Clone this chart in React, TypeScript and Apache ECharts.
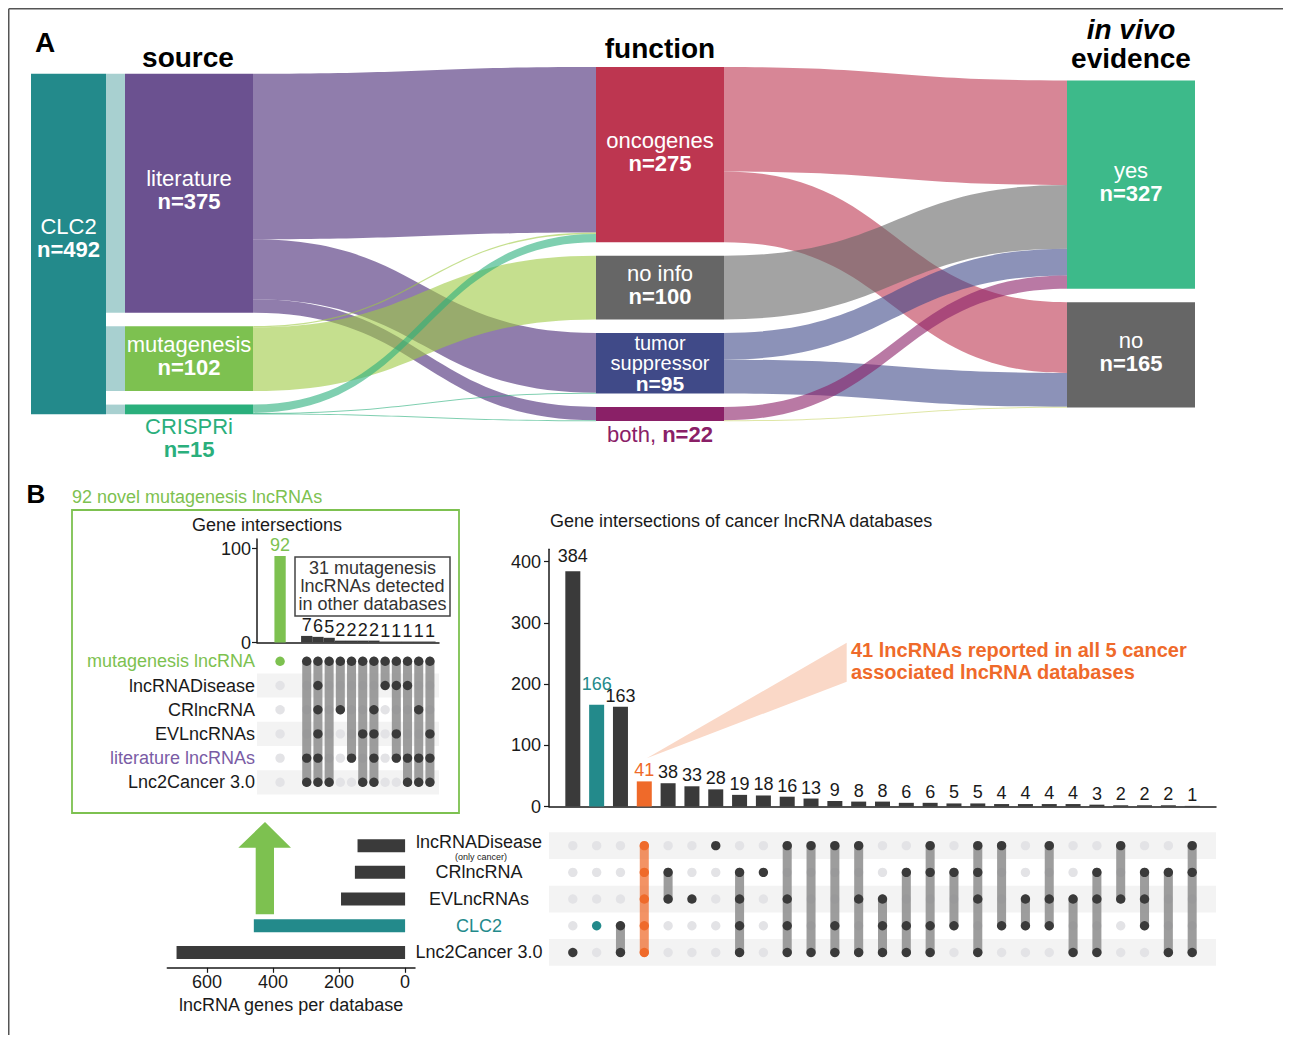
import React, { useEffect, useRef } from 'react';
import * as echarts from 'echarts';

const FONT = '"Liberation Sans", Arial, Helvetica, sans-serif';

// ---------------- Panel A data (alluvial) ----------------
const clc2Total = 492;
const sourceNames = ['literature', 'mutagenesis', 'CRISPRi'];
const sourceValues = [375, 102, 15];
const functionNames = ['oncogenes', 'no info', 'tumor suppressor', 'both'];
const functionValues = [275, 100, 95, 22];
const evidenceNames = ['yes', 'no'];
const evidenceValues = [327, 165];
const flowFrom = ['literature', 'literature', 'literature', 'mutagenesis', 'mutagenesis', 'CRISPRi', 'CRISPRi', 'CRISPRi',
  'oncogenes', 'oncogenes', 'no info', 'tumor suppressor', 'tumor suppressor', 'both', 'both'];
const flowTo = ['oncogenes', 'tumor suppressor', 'both', 'oncogenes', 'no info', 'oncogenes', 'tumor suppressor', 'both',
  'yes', 'no', 'yes', 'yes', 'no', 'yes', 'no'];
const flowValues = [260, 94, 21, 2, 100, 13, 1, 1, 164, 111, 100, 42, 53, 21, 1];

// ---------------- Panel B inset (mutagenesis upset) ----------------
const insetSetNames = ['mutagenesis lncRNA', 'lncRNADisease', 'CRlncRNA', 'EVLncRNAs', 'literature lncRNAs', 'Lnc2Cancer 3.0'];
const novelCount = 92;
const insetCounts = [7, 6, 5, 2, 2, 2, 2, 1, 1, 1, 1, 1];
const insetMembership = [
  [0, 4, 5], [0, 1, 2, 3, 4, 5], [0, 5], [0, 2], [0, 4], [0, 3, 5],
  [0, 2, 3, 4, 5], [0, 1], [0, 1, 3, 4], [0, 1, 4, 5], [0, 2, 4, 5], [0, 3, 4, 5],
];
const insetTicks = [0, 100];

// ---------------- Panel B main (database upset) ----------------
const dbNames = ['lncRNADisease', 'CRlncRNA', 'EVLncRNAs', 'CLC2', 'Lnc2Cancer 3.0'];
const dbNotes = ['(only cancer)', '', '', '', ''];
const dbSizes = [144, 152, 194, 458, 692];
const interCounts = [384, 166, 163, 41, 38, 33, 28, 19, 18, 16, 13, 9, 8, 8, 6, 6, 5, 5, 4, 4, 4, 4, 3, 2, 2, 2, 1];
const interMembership = [
  [4], [3], [3, 4], [0, 1, 2, 3, 4], [1, 2], [2], [0], [1, 2, 3, 4], [1], [0, 2, 3, 4],
  [0, 4], [0, 3, 4], [0, 2, 4], [2, 3, 4], [1, 3, 4], [0, 1, 3, 4], [1, 3], [0, 1, 2, 4],
  [0, 3], [2, 3], [0, 2, 3], [2, 4], [1, 2, 4], [0, 2], [1, 2, 3], [1, 4], [0, 1, 4],
];
const interTicks = [0, 100, 200, 300, 400];
const sizeTicks = [0, 200, 400, 600];

// ---------------- styles ----------------
const TEAL = '#238a8b';
const GREEN = '#7dc150';
const ORANGE = '#ef6a2a';
const DARK = '#3a3a3a';
const TXT = '#1a1a1a';
const LIGHT_DOT = '#e3e3e6';
const STRIPE = '#f3f3f3';
const NODE_COLOR: Record<string, string> = {
  literature: '#6b5190', mutagenesis: '#7dc150', CRISPRi: '#2aaf7c',
  oncogenes: '#bd3650', 'no info': '#666666', 'tumor suppressor': '#404a88', both: '#8a2067',
  yes: '#3dba8a', no: '#666666',
};
const LINK_COLOR: Record<string, string> = {
  literature: '#6b5190', mutagenesis: '#9ec943', CRISPRi: '#2aaf7c',
  oncogenes: '#bd3650', 'no info': '#666666', 'tumor suppressor': '#404a88', both: '#8a2067',
};

// ---------------- layout ----------------
const PAGE_W = 1275;
const PAGE_H = 1027;
const SK = { left: 117, top: 59, width: 1070, nodeWidth: 128, gap: 13.5, ky: 0.637 };
const SK_H = functionValues.reduce((a, b) => a + b, 0) * SK.ky + (functionValues.length - 1) * SK.gap;
const CLC2_X = 23;
const CLC2_W = 75;
const INSET_XMIN = -4.44;
const INSET_XMAX = 11.81;
const NOVEL_X = -2.38;
const LABEL_NUDGE: Record<number, number> = { 0: -4, 1: -10 };
const MAIN_GRID = { left: 541, top: 824.3, width: 667, height: 133.5 };
const ROW_LABEL_X = 471;

function columnTops(values: number[]): number[] {
  const tot = values.reduce((a, b) => a + b, 0) * SK.ky + (values.length - 1) * SK.gap;
  let y = (SK_H - tot) / 2;
  return values.map((v) => {
    const t = y;
    y += v * SK.ky + SK.gap;
    return t;
  });
}

function nodeLabel(name: string, value: number): any {
  if (name === 'tumor suppressor') return { formatter: `{t|tumor}\n{t|suppressor}\n{tb|n=${value}}` };
  if (name === 'CRISPRi') return { position: 'bottom', distance: 1, formatter: `{cg|CRISPRi}\n{cgb|n=${value}}` };
  if (name === 'both') return { position: 'bottom', distance: 2, formatter: `{m|both, }{mb|n=${value}}` };
  return { offset: [0, -3], formatter: `{w|${name}}\n{wb|n=${value}}` };
}

function buildNodes(names: string[], values: number[]) {
  const tops = columnTops(values);
  return names.map((name, i) => ({
    name,
    localY: tops[i] / SK_H,
    itemStyle: { color: NODE_COLOR[name], borderWidth: 0 },
    label: nodeLabel(name, values[i]),
  }));
}

function stripeSeries(idx: number, rows: number[], xmin: number) {
  return {
    type: 'custom', xAxisIndex: idx, yAxisIndex: idx, silent: true, z: 1,
    data: rows.map((r) => [xmin, r]),
    renderItem: (params: any, api: any) => {
      const cs = params.coordSys;
      const c = api.coord([api.value(0), api.value(1)]);
      const h = api.size([0, 1])[1];
      return { type: 'rect', shape: { x: cs.x, y: c[1] - h / 2, width: cs.width, height: h }, style: { fill: STRIPE } };
    },
  };
}

function matrixSeries(idx: number, xs: number[], members: number[][], nRows: number,
  colorOf: (i: number) => { dot: string; bar: string; op: number }) {
  const R = 4.7;
  const BW = 9;
  return {
    type: 'custom', xAxisIndex: idx, yAxisIndex: idx, silent: true, z: 2,
    data: xs.map((x) => [x, 0]),
    renderItem: (params: any, api: any) => {
      const i = params.dataIndex;
      const x = api.value(0);
      const m = members[i];
      const col = colorOf(i);
      const children: any[] = [];
      for (let r = 0; r < nRows; r++) {
        if (m.indexOf(r) < 0) {
          const p = api.coord([x, r]);
          children.push({ type: 'circle', shape: { cx: p[0], cy: p[1], r: R }, style: { fill: LIGHT_DOT } });
        }
      }
      if (m.length > 1) {
        const a = api.coord([x, Math.min(...m)]);
        const b = api.coord([x, Math.max(...m)]);
        children.push({
          type: 'rect',
          shape: { x: a[0] - BW / 2, y: a[1] - BW / 2, width: BW, height: b[1] - a[1] + BW, r: BW / 2 },
          style: { fill: col.bar, opacity: col.op },
        });
      }
      m.forEach((r) => {
        const p = api.coord([x, r]);
        children.push({ type: 'circle', shape: { cx: p[0], cy: p[1], r: R }, style: { fill: col.dot } });
      });
      return { type: 'group', children };
    },
  };
}

function gText(text: string, x: number, y: number, font: string, fill: string, align = 'center', extra: any = {}) {
  return {
    type: 'text', x, y, silent: true, z: 10,
    style: { text, font, fill, textAlign: align, align, textVerticalAlign: 'middle', verticalAlign: 'middle', ...extra },
  };
}

function buildOption(): any {
  const sankeyData = [
    ...buildNodes(sourceNames, sourceValues),
    ...buildNodes(functionNames, functionValues),
    ...buildNodes(evidenceNames, evidenceValues),
  ];
  const sankeyLinks = flowFrom.map((s, i) => ({
    source: s,
    target: flowTo[i],
    value: flowValues[i],
    lineStyle: {
      color: s === 'both' && flowTo[i] === 'no' ? '#c9d66a' : LINK_COLOR[s],
      opacity: s === 'literature' ? 0.75 : 0.6,
    },
  }));
  const srcTops = columnTops(sourceValues);

  const axisLine = { show: true, onZero: false, lineStyle: { color: TXT, width: 1.5 } };
  const tickStyle = { lineStyle: { color: TXT, width: 1.2 } };
  const labelBase = { fontSize: 18, color: TXT, fontFamily: FONT };

  const insetXs = [NOVEL_X, ...insetCounts.map((_, k) => k)];
  const insetMembersAll = [[0], ...insetMembership];
  const interXs = interCounts.map((_, i) => i);

  const kind = (m: number[]) =>
    m.length === dbNames.length ? 'all' : m.length === 1 && dbNames[m[0]] === 'CLC2' ? 'clc2' : 'other';

  const rowH = MAIN_GRID.height / dbNames.length;
  const noteTexts = dbNotes
    .map((note, i) => ({ note, i }))
    .filter((d) => d.note)
    .map((d) => gText(d.note, ROW_LABEL_X + 2, MAIN_GRID.top + rowH * (d.i + 0.5) + 11.8, `9px ${FONT}`, TXT));

  return {
    animation: false,
    textStyle: { fontFamily: FONT },
    grid: [
      { left: 249, top: 531.1, width: 182, height: 103.4 },
      { left: 249, top: 641.2, width: 182, height: 145.2 },
      { left: 541, top: 541.25, width: 667, height: 257.25 },
      { ...MAIN_GRID },
      { left: 159.3, top: MAIN_GRID.top, width: 247.7, height: MAIN_GRID.height },
    ].map((g) => ({ ...g, containLabel: false, outerBoundsMode: 'none' })),
    xAxis: [
      { gridIndex: 0, type: 'value', min: INSET_XMIN, max: INSET_XMAX, axisLine, axisTick: { show: false }, axisLabel: { show: false }, splitLine: { show: false } },
      { gridIndex: 1, type: 'value', min: INSET_XMIN, max: INSET_XMAX, show: false },
      { gridIndex: 2, type: 'value', min: -1, max: interCounts.length, axisLine, axisTick: { show: false }, axisLabel: { show: false }, splitLine: { show: false } },
      { gridIndex: 3, type: 'value', min: -1, max: interCounts.length, show: false },
      {
        gridIndex: 4, type: 'value', inverse: true, min: -30, max: 720, offset: 2,
        axisLine,
        axisTick: { show: true, length: 5, customValues: sizeTicks, ...tickStyle },
        axisLabel: { ...labelBase, margin: 5, customValues: sizeTicks, formatter: (v: number) => (v >= 0 && v % 200 === 0 ? String(v) : '') },
        splitLine: { show: false },
        name: 'lncRNA genes per database', nameLocation: 'middle', nameGap: 28,
        nameTextStyle: { fontSize: 18, color: TXT, fontFamily: FONT },
      },
    ],
    yAxis: [
      {
        gridIndex: 0, type: 'value', min: 0, max: 110, axisLine,
        axisTick: { show: true, length: 5, customValues: insetTicks, ...tickStyle },
        axisLabel: { ...labelBase, margin: 6, customValues: insetTicks, formatter: (v: number) => (v % 100 === 0 ? String(v) : '') },
        splitLine: { show: false },
      },
      {
        gridIndex: 1, type: 'category', data: insetSetNames, inverse: true,
        axisLine: { show: false }, axisTick: { show: false },
        axisLabel: {
          ...labelBase, margin: 2, interval: 0, hideOverlap: false,
          color: (v: string) => (v === 'mutagenesis lncRNA' ? GREEN : v === 'literature lncRNAs' ? '#7a5ca5' : TXT),
        },
      },
      {
        gridIndex: 2, type: 'value', min: 0, max: 420, axisLine,
        axisTick: { show: true, length: 5, customValues: interTicks, ...tickStyle },
        axisLabel: { ...labelBase, margin: 8, customValues: interTicks, formatter: (v: number) => (v % 100 === 0 ? String(v) : '') },
        splitLine: { show: false },
      },
      {
        gridIndex: 3, type: 'category', inverse: true,
        data: dbNames.map((n, i) => (dbNotes[i] ? { value: n, textStyle: { align: 'center', verticalAlign: 'bottom', lineHeight: 8 } } : n)),
        axisLine: { show: false }, axisTick: { show: false },
        axisLabel: {
          ...labelBase, margin: MAIN_GRID.left - ROW_LABEL_X, align: 'center', interval: 0, hideOverlap: false,
          color: (v: string) => (v === 'CLC2' ? TEAL : TXT),
        },
      },
      { gridIndex: 4, type: 'category', data: dbNames, inverse: true, show: false },
    ],
    series: [
      {
        type: 'sankey',
        left: SK.left, top: SK.top, width: SK.width, height: SK_H,
        nodeWidth: SK.nodeWidth, nodeGap: SK.gap, layoutIterations: 0, nodeAlign: 'justify',
        draggable: false, silent: true,
        itemStyle: { borderWidth: 0 },
        emphasis: { disabled: true },
        label: {
          show: true, position: 'inside', color: '#fff', fontFamily: FONT, fontSize: 22,
          rich: {
            w: { color: '#fff', fontSize: 22, lineHeight: 23, fontFamily: FONT },
            wb: { color: '#fff', fontSize: 22, lineHeight: 23, fontWeight: 'bold', fontFamily: FONT },
            t: { color: '#fff', fontSize: 20, lineHeight: 20, fontFamily: FONT },
            tb: { color: '#fff', fontSize: 21, lineHeight: 21, fontWeight: 'bold', fontFamily: FONT },
            cg: { color: '#2aaf7c', fontSize: 22, lineHeight: 23, fontFamily: FONT },
            cgb: { color: '#2aaf7c', fontSize: 22, lineHeight: 23, fontWeight: 'bold', fontFamily: FONT },
            m: { color: '#8a2067', fontSize: 22, lineHeight: 24, fontFamily: FONT },
            mb: { color: '#8a2067', fontSize: 22, lineHeight: 24, fontWeight: 'bold', fontFamily: FONT },
          },
        },
        lineStyle: { curveness: 0.5 },
        data: sankeyData,
        links: sankeyLinks,
      },
      {
        type: 'custom', coordinateSystem: 'none', silent: true, z: 3,
        data: sourceValues.map((v, i) => [i, v]),
        renderItem: (params: any, api: any) => {
          const i = params.dataIndex;
          const y = SK.top + srcTops[i];
          const h = api.value(1) * SK.ky;
          const children: any[] = [
            { type: 'rect', shape: { x: CLC2_X + CLC2_W, y, width: SK.left - CLC2_X - CLC2_W, height: h }, style: { fill: '#a8d0d0' } },
          ];
          if (i === 0) {
            const last = sourceValues.length - 1;
            const top = SK.top + srcTops[0];
            const bot = SK.top + srcTops[last] + sourceValues[last] * SK.ky;
            const cx = CLC2_X + CLC2_W / 2;
            const cy = (top + bot) / 2 - 6;
            children.push({ type: 'rect', shape: { x: CLC2_X, y: top, width: CLC2_W, height: bot - top }, style: { fill: TEAL } });
            children.push({ type: 'text', x: cx, y: cy - 11.5, style: { text: 'CLC2', font: `22px ${FONT}`, fill: '#fff', textAlign: 'center', align: 'center', textVerticalAlign: 'middle', verticalAlign: 'middle' } });
            children.push({ type: 'text', x: cx, y: cy + 11.5, style: { text: `n=${clc2Total}`, font: `bold 22px ${FONT}`, fill: '#fff', textAlign: 'center', align: 'center', textVerticalAlign: 'middle', verticalAlign: 'middle' } });
          }
          return { type: 'group', children };
        },
      },
      stripeSeries(1, [1, 3, 5], INSET_XMIN),
      matrixSeries(1, insetXs, insetMembersAll, insetSetNames.length, (i) =>
        i === 0 ? { dot: GREEN, bar: GREEN, op: 1 } : { dot: DARK, bar: '#8c8c8c', op: 0.85 }),
      {
        type: 'bar', xAxisIndex: 0, yAxisIndex: 0, barWidth: 11.3,
        itemStyle: { color: DARK },
        label: { show: true, position: 'top', distance: 2, ...labelBase },
        data: [
          { value: [NOVEL_X, novelCount], itemStyle: { color: GREEN }, label: { color: GREEN } },
          ...insetCounts.map((v, k) => ({ value: [k, v] })),
        ],
      },
      {
        type: 'bar', xAxisIndex: 2, yAxisIndex: 2, barWidth: 15,
        label: { show: true, position: 'top', distance: 2, ...labelBase },
        data: interCounts.map((v, i) => {
          const k = kind(interMembership[i]);
          const color = k === 'all' ? ORANGE : k === 'clc2' ? TEAL : DARK;
          return {
            value: [i, v],
            itemStyle: { color },
            label: { color: color === DARK ? TXT : color, offset: [0, LABEL_NUDGE[i] || 0] },
          };
        }),
      },
      stripeSeries(3, [0, 2, 4], -1),
      matrixSeries(3, interXs, interMembership, dbNames.length, (i) => {
        const k = kind(interMembership[i]);
        if (k === 'all') return { dot: ORANGE, bar: ORANGE, op: 0.72 };
        if (k === 'clc2') return { dot: TEAL, bar: TEAL, op: 0.8 };
        return { dot: DARK, bar: '#8c8c8c', op: 0.85 };
      }),
      {
        type: 'bar', xAxisIndex: 4, yAxisIndex: 4, barWidth: 13,
        data: dbSizes.map((v, i) => ({ value: v, itemStyle: { color: dbNames[i] === 'CLC2' ? TEAL : DARK } })),
      },
    ],
    graphic: [
      { type: 'line', silent: true, shape: { x1: 0.75, y1: 0.75, x2: PAGE_W, y2: 0.75 }, style: { stroke: '#555', lineWidth: 1.5 } },
      { type: 'line', silent: true, shape: { x1: 0.75, y1: 0.75, x2: 0.75, y2: PAGE_H }, style: { stroke: '#555', lineWidth: 1.5 } },
      gText('A', 37, 34, `bold 28px ${FONT}`, '#000'),
      gText('B', 28, 486, `bold 26px ${FONT}`, '#000'),
      gText('source', 180, 49, `bold 28px ${FONT}`, '#000'),
      gText('function', 652, 40.5, `bold 28px ${FONT}`, '#000'),
      gText('in vivo', 1123, 21, `italic bold 28px ${FONT}`, '#000'),
      gText('evidence', 1123, 50, `bold 28px ${FONT}`, '#000'),
      { type: 'rect', silent: true, shape: { x: 64, y: 502, width: 387, height: 303 }, style: { fill: 'none', stroke: GREEN, lineWidth: 1.8 } },
      gText('92 novel mutagenesis lncRNAs', 64, 489, `18px ${FONT}`, GREEN, 'left'),
      gText('Gene intersections', 259, 517, `18px ${FONT}`, TXT),
      { type: 'rect', silent: true, z: 9, shape: { x: 287, y: 549, width: 155, height: 59 }, style: { fill: '#fff', stroke: '#444', lineWidth: 1.5 } },
      gText('31 mutagenesis\nlncRNAs detected\nin other databases', 364.5, 578.3, `18px ${FONT}`, '#333', 'center', { lineHeight: 18 }),
      {
        type: 'polygon', silent: true,
        shape: { points: [[257, 814], [283, 839.7], [266, 839.7], [266, 906.3], [247.7, 906.3], [247.7, 839.7], [230.3, 839.7]] },
        style: { fill: GREEN },
      },
      gText('Gene intersections of cancer lncRNA databases', 542, 513, `18px ${FONT}`, TXT, 'left'),
      {
        type: 'polygon', silent: true,
        shape: { points: [[638.7, 750.3], [838.7, 634.7], [838.7, 673.7]] },
        style: { fill: '#fad8c7' },
      },
      gText('41 lncRNAs reported in all 5 cancer\nassociated lncRNA databases', 843, 653, `bold 20px ${FONT}`, ORANGE, 'left', { lineHeight: 22 }),
      ...noteTexts,
    ],
  };
}

export default function App() {
  const ref = useRef<HTMLDivElement>(null);
  useEffect(() => {
    if (!ref.current) return;
    const chart = echarts.init(ref.current, null, { renderer: 'svg' });
    chart.setOption(buildOption());
    return () => chart.dispose();
  }, []);
  return <div ref={ref} style={{ width: PAGE_W, height: PAGE_H }} />;
}
